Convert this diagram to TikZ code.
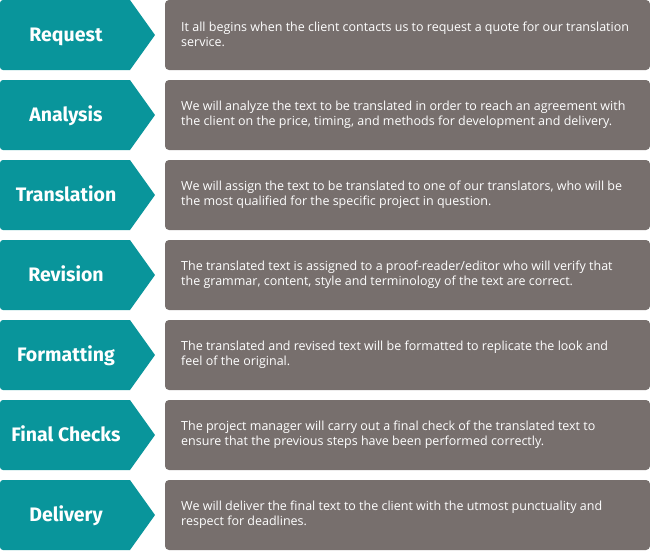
\documentclass[tikz,border=0pt]{standalone}
\usepackage{fontspec}
\setmainfont{Open Sans}
\newfontfamily\labfont{Fira Sans}
\definecolor{tealc}{RGB}{9,149,155}
\definecolor{grayc}{RGB}{119,111,109}
\tikzset{
  chev/.style={fill=tealc},
  descbox/.style={fill=grayc, rounded corners=4pt},
  labtext/.style={text=white, anchor=base, font=\labfont\bfseries\fontsize{19.5}{22}\selectfont, inner sep=0pt},
  desctext/.style={text=white, anchor=west, align=left, inner sep=0pt, font=\fontsize{12.5}{15}\selectfont}
}
\newcommand\steprow[4]{%
  \pgfmathsetmacro\tp{80*(#1-1)}%
  \fill[chev] (155,\tp+35) -- (130,\tp) [rounded corners=3pt] -- (0,\tp) -- (0,\tp+70) [sharp corners] -- (130,\tp+70) -- cycle;
  \fill[descbox] (165,\tp) rectangle (650,\tp+70);
  \node[labtext] (lab#1) at (66,\tp+41.5) {#2};
  \node[desctext] (desc#1) at (181,\tp+34.5) {#3\\#4};
}
\begin{document}
\begin{tikzpicture}[x=1pt,y=-1pt]
\useasboundingbox (0,0) rectangle (650,550);
\steprow{1}{Request}{It all begins when the client contacts us to request a quote for our translation}{service.}
\steprow{2}{Analysis}{We will analyze the text to be translated in order to reach an agreement with}{the client on the price, timing, and methods for development and delivery.}
\steprow{3}{Translation}{We will assign the text to be translated to one of our translators, who will be}{the most qualified for the specific project in question.}
\steprow{4}{Revision}{The translated text is assigned to a proof-reader/editor who will verify that}{the grammar, content, style and terminology of the text are correct.}
\steprow{5}{Formatting}{The translated and revised text will be formatted to replicate the look and}{feel of the original.}
\steprow{6}{Final Checks}{The project manager will carry out a final check of the translated text to}{ensure that the previous steps have been performed correctly.}
\steprow{7}{Delivery}{We will deliver the final text to the client with the utmost punctuality and}{respect for deadlines.}
\end{tikzpicture}
\end{document}
